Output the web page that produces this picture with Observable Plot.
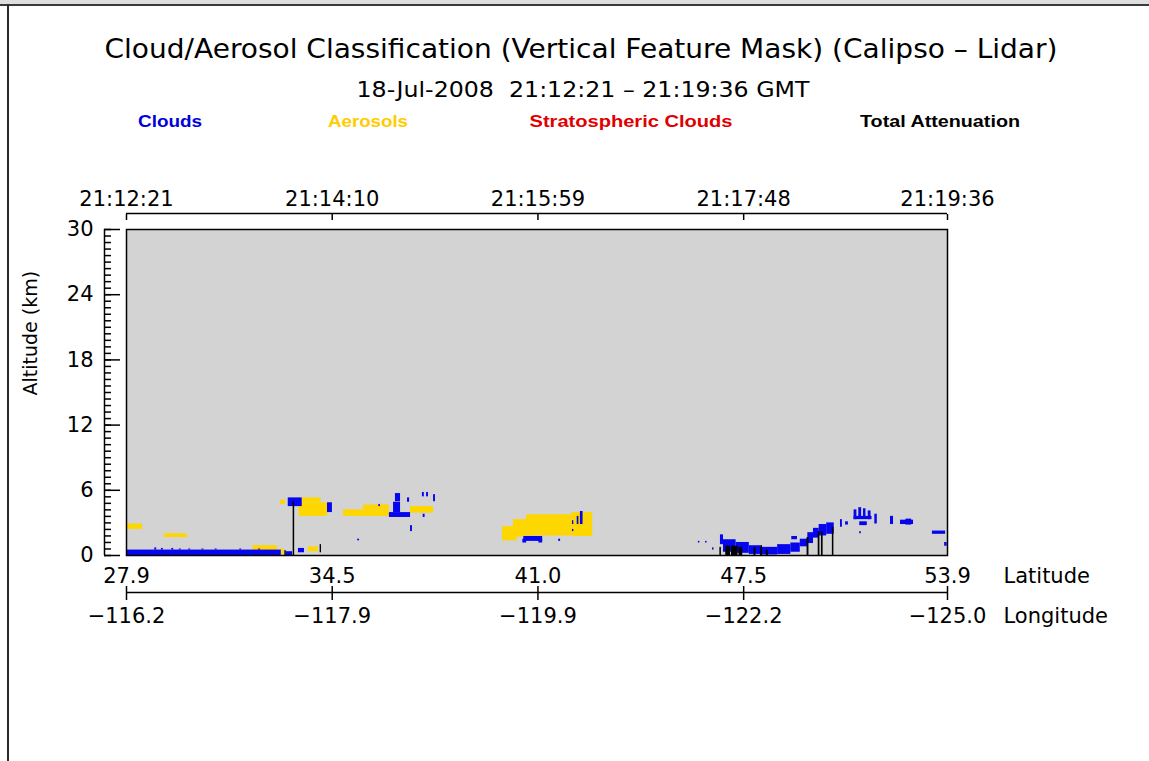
<!DOCTYPE html>
<html><head><meta charset="utf-8">
<script src="https://cdn.jsdelivr.net/npm/d3@7"></script>
<script src="https://cdn.jsdelivr.net/npm/@observablehq/plot@0.6"></script>
<style>
html,body{margin:0;padding:0;background:#fff;width:1149px;height:761px;overflow:hidden;position:relative}
#chart{position:absolute;left:0;top:0}
#header{position:absolute;left:0;top:0}
.bd{position:absolute;pointer-events:none}
</style></head>
<body>
<div id="chart"></div>
<svg id="header" width="1149" height="140"></svg>
<div class="bd" style="left:0;top:0;width:1149px;height:4px;background:#dedede"></div>
<div class="bd" style="left:0;top:4px;width:1149px;height:2px;background:#3a3a3a"></div>
<div class="bd" style="left:7px;top:4px;width:2px;height:757px;background:#2a2a2a"></div>
<script>
// ---- text ----
const titleText = "Cloud/Aerosol Classification (Vertical Feature Mask) (Calipso \u2013 Lidar)";
const subtitleText = "18-Jul-2008\u00a0\u00a021:12:21 \u2013 21:19:36 GMT";
const legendLabels = ["Clouds", "Aerosols", "Stratospheric Clouds", "Total Attenuation"];
const legendColors = ["#0000d8", "#ffcc00", "#e00000", "#000000"];

// ---- axes (x in seconds after 21:12:21) ----
const tickSecs = [0, 109, 218, 327, 435];
const timeLabels = ["21:12:21", "21:14:10", "21:15:59", "21:17:48", "21:19:36"];
const latLabels = ["27.9", "34.5", "41.0", "47.5", "53.9"];
const lonLabels = ["\u2212116.2", "\u2212117.9", "\u2212119.9", "\u2212122.2", "\u2212125.0"];
const altTicks = [0, 6, 12, 18, 24, 30];
const altMinorStep = 0.6;

// ---- features: [start s, end s, base km, top km] ----
const clouds = [
  [0, 82, 0, 0.5],
  [15, 16, 0.5, 0.7], [18.5, 19.5, 0.5, 0.65], [24, 25, 0.5, 0.65], [28, 29, 0.5, 0.6],
  [33, 34, 0.5, 0.6], [40, 41, 0.5, 0.6], [47, 48, 0.5, 0.6], [60, 61, 0.5, 0.6], [70, 71, 0.5, 0.6],
  [84.5, 88, 0, 0.35],
  [85.7, 93.1, 4.5, 5.3],
  [91.1, 94.3, 0.25, 0.65],
  [106.5, 109.1, 3.95, 4.85],
  [122.5, 123.5, 1.35, 1.5],
  [133.7, 134.5, 4.5, 4.7],
  [139.3, 150.5, 3.5, 3.95],
  [141.5, 145.2, 3.95, 4.9],
  [142.5, 145.2, 4.95, 5.7],
  [148.9, 150, 4.9, 5.3],
  [150.5, 151.5, 2.2, 2.75],
  [156.8, 157.8, 5.4, 5.8],
  [159, 160, 5.4, 5.8],
  [157.2, 158.2, 3.5, 3.8],
  [162.7, 163.7, 4.95, 5.6],
  [210.5, 220.5, 1.3, 1.75],
  [210, 212, 1.15, 1.5],
  [218.5, 220.5, 1.15, 1.5],
  [229, 230, 1.3, 1.5],
  [236.3, 237, 2.85, 3.2],
  [238.8, 239.7, 2.85, 3.6],
  [240.5, 241.9, 2.85, 4.05],
  [236.3, 237, 2.2, 2.4],
  [303, 303.8, 1.15, 1.3],
  [306.8, 307.6, 1.15, 1.3],
  [310.5, 311.3, 0.5, 0.7],
  [314.7, 316.3, 1.0, 1.9],
  [316.3, 323, 0.3, 1.45],
  [323, 330, 0.2, 1.2],
  [330, 336, 0.1, 0.9],
  [336, 345, 0.05, 0.75],
  [345, 352, 0.1, 1.0],
  [352, 357, 0.3, 1.15],
  [352.5, 355.5, 1.45, 1.75],
  [357, 361, 0.8, 1.5],
  [361, 364, 1.1, 2.1],
  [364, 367, 1.6, 2.5],
  [367, 371, 1.8, 2.85],
  [371, 375, 1.95, 3.0],
  [378.3, 379.3, 2.6, 3.3],
  [381, 382.5, 2.8, 3.1],
  [385.5, 387, 3.3, 4.2],
  [388, 389.5, 3.5, 4.4],
  [390.5, 391.8, 3.4, 4.3],
  [393, 394.5, 3.3, 4.1],
  [396.5, 397.8, 2.9, 3.8],
  [385.5, 395, 3.3, 3.6],
  [388.5, 392.5, 2.75, 3.1],
  [388.5, 389.3, 2.0, 2.2],
  [404.8, 406.4, 2.85, 3.6],
  [410.1, 417, 2.85, 3.25],
  [413, 416, 2.8, 3.35],
  [427, 434, 1.95, 2.25],
  [433.5, 434.8, 0.85, 1.2]
];
const aerosols = [
  [0.5, 8.5, 2.4, 2.9],
  [20, 32.3, 1.65, 2.0],
  [67, 80, 0.35, 0.9],
  [81.6, 83.5, 0.1, 0.6],
  [81.6, 84.2, 4.7, 5.1],
  [91.5, 106.5, 3.6, 4.85],
  [93, 103, 4.85, 5.3],
  [96.4, 101.7, 0.35, 0.8],
  [115, 139.3, 3.6, 4.2],
  [125.6, 139.3, 4.2, 4.65],
  [150.5, 162.7, 3.9, 4.5],
  [199.2, 207, 1.35, 2.65],
  [205, 212, 1.7, 3.3],
  [212, 236, 1.8, 3.75],
  [236, 247, 1.75, 3.95]
];
const stratospheric = [];
const attenuation = [
  [83.9, 84.6, 0, 0.45],
  [88.3, 89.1, 0, 4.95],
  [102.6, 103.3, 0.25, 1.0],
  [314.4, 315.2, 0, 0.75],
  [317.5, 320, 0, 0.85],
  [320.5, 324, 0, 0.85],
  [324.5, 326.5, 0, 0.75],
  [332.5, 333.5, 0, 0.7],
  [336, 337, 0, 0.9],
  [339, 340, 0, 0.5],
  [360.6, 361.6, 0, 1.65],
  [366.5, 367.4, 0, 2.2],
  [368.2, 369.1, 0, 2.2],
  [374, 374.8, 0, 2.6]
];

const toRows = (arr, type) => arr.map(([t1, t2, z1, z2]) => ({t1, t2, z1, z2, type}));
const rows = [
  ...toRows(aerosols, legendLabels[1]),
  ...toRows(clouds, legendLabels[0]),
  ...toRows(stratospheric, legendLabels[2]),
  ...toRows(attenuation, legendLabels[3])
];
const lbl = labels => d => labels[tickSecs.indexOf(d)];
const minorTicks = d3.range(0, altTicks[altTicks.length - 1] + 1e-6, altMinorStep);
const featureColors = ["#0505ee", "#ffd700", "#e00000", "#000000"];

const chart = Plot.plot({
  width: 1149, height: 761,
  marginTop: 229, marginLeft: 126, marginRight: 202, marginBottom: 206,
  style: {fontFamily: "'DejaVu Sans', sans-serif", fontSize: "21px", color: "#000", background: "transparent", overflow: "visible"},
  x: {domain: [0, 435]},
  y: {domain: [0, 30]},
  color: {domain: legendLabels, range: featureColors},
  marks: [
    Plot.frame({fill: "#d3d3d3", stroke: null}),
    Plot.rect(rows, {x1: "t1", x2: "t2", y1: "z1", y2: "z2", fill: "type"}),
    Plot.frame({stroke: "#000", strokeWidth: 1.5}),
    // top time axis
    Plot.ruleY([altTicks[altTicks.length - 1]], {dy: -16, stroke: "#000", strokeWidth: 1.5}),
    Plot.axisX({anchor: "top", ticks: tickSecs, tickFormat: lbl(timeLabels), tickSize: 6, dy: -10, tickPadding: 8, label: null, strokeWidth: 1.5}),
    // bottom latitude / longitude axis
    Plot.ruleY([0], {dy: 37, stroke: "#000", strokeWidth: 1.5}),
    Plot.axisX({anchor: "bottom", ticks: tickSecs, tickFormat: () => "", tickSize: 14, dy: 31, label: null, strokeWidth: 1.5}),
    Plot.axisX({anchor: "bottom", ticks: tickSecs, tickFormat: lbl(latLabels), tickSize: 0, tickPadding: 13, label: null}),
    Plot.axisX({anchor: "bottom", ticks: tickSecs, tickFormat: lbl(lonLabels), tickSize: 0, tickPadding: 53, label: null}),
    Plot.text(["Latitude"], {frameAnchor: "bottom-right", textAnchor: "start", lineAnchor: "middle", dx: 56, dy: 21}),
    Plot.text(["Longitude"], {frameAnchor: "bottom-right", textAnchor: "start", lineAnchor: "middle", dx: 56, dy: 61}),
    // altitude axis
    Plot.ruleX([0], {dx: -22, stroke: "#000", strokeWidth: 1.5}),
    Plot.axisY({ticks: minorTicks, tickFormat: () => "", tickSize: 7, dx: -15, label: null, strokeWidth: 1.5}),
    Plot.axisY({ticks: altTicks, tickSize: 16, dx: -6, tickPadding: 11, label: null, strokeWidth: 1.5}),
    Plot.text(["Altitude (km)"], {frameAnchor: "left", rotate: -90, dx: -96, dy: 3, fontSize: 19})
  ]
});
document.getElementById("chart").appendChild(chart);

// ---- header (title, subtitle, legend) ----
const hdr = d3.select("#header");
function addText(str, x, y, size, len, opts = {}) {
  hdr.append("text").attr("x", x).attr("y", y).attr("text-anchor", "middle")
    .attr("font-family", opts.family || "'DejaVu Sans', sans-serif")
    .attr("font-size", size).attr("font-weight", opts.weight || "normal")
    .attr("fill", opts.fill || "#000")
    .attr("textLength", len).attr("lengthAdjust", "spacingAndGlyphs")
    .text(str);
}
addText(titleText, 581, 58, 27, 953);
addText(subtitleText, 583, 97, 22, 453);
const legendX = [170, 368, 631, 940];
const legendW = [64, 80, 203, 160];
legendLabels.forEach((l, i) => addText(l, legendX[i], 127, 16, legendW[i], {weight: "bold", fill: legendColors[i], family: "'Liberation Sans', sans-serif"}));
</script>
</body></html>
